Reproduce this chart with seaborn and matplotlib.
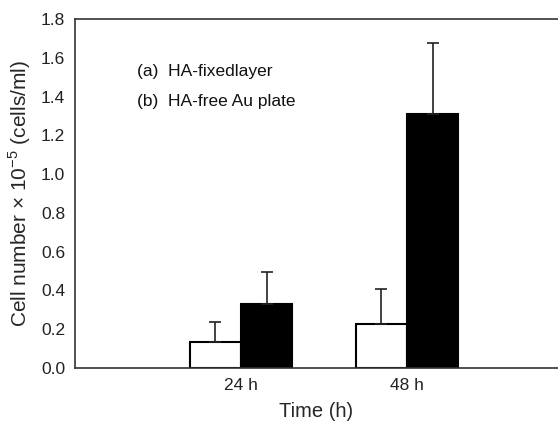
import matplotlib
matplotlib.use("Agg")
import matplotlib.pyplot as plt
import seaborn as sns
import pandas as pd
import numpy as np

# Data
times = ["24 h", "48 h"]
time_pos = [1, 2]
series = ["(a)  HA-fixedlayer", "(b)  HA-free Au plate"]
ha_fixed = [0.132, 0.228]
ha_fixed_err = [0.103, 0.182]
au_plate = [0.328, 1.309]
au_plate_err = [0.165, 0.365]
y_ticks = [0.0, 0.2, 0.4, 0.6, 0.8, 1.0, 1.2, 1.4, 1.6, 1.8]

sns.set_theme(style="white")
plt.rcParams["font.family"] = ["Liberation Sans", "DejaVu Sans"]
plt.rcParams["mathtext.fontset"] = "custom"
plt.rcParams["mathtext.rm"] = "Liberation Sans"

df = pd.DataFrame({
    "pos": time_pos * 2,
    "series": [series[0]] * 2 + [series[1]] * 2,
    "value": ha_fixed + au_plate,
})

fig = plt.figure(figsize=(5.58, 4.22), dpi=100)
ax = fig.add_axes([75 / 558, 54 / 422, 483 / 558, 349 / 422])

sns.barplot(data=df, x="pos", y="value", hue="series", native_scale=True,
            palette=["white", "black"], edgecolor="black", linewidth=1.5,
            width=0.62, errorbar=None, legend=False, ax=ax)

# upward-only error bars, using bar centers from the patches
errs = ha_fixed_err + au_plate_err
vals = ha_fixed + au_plate
bars = [p for p in ax.patches if p.get_width() > 0]
bars_sorted = sorted(bars, key=lambda p: (p.get_facecolor()[0] < 0.5, p.get_x()))
xs = [p.get_x() + p.get_width() / 2 for p in bars_sorted]
ax.errorbar(xs, vals, yerr=[np.zeros(len(errs)), errs], fmt="none",
            ecolor="#222222", elinewidth=1.2, capsize=4, capthick=1.2, zorder=1)

ax.set_xlim(0, 483 / 166)
ax.set_ylim(0, 1.8)
ax.set_yticks(y_ticks)
ax.set_yticklabels([f"{t:.1f}" for t in y_ticks], fontsize=12.5)
ax.set_xticks(time_pos)
ax.set_xticklabels(times, fontsize=12.5)
ax.tick_params(axis="y", direction="in", length=2, width=0.8, pad=7, colors="#222222")
ax.tick_params(axis="x", length=0, pad=7, colors="#222222")
ax.set_xlabel("Time (h)", fontsize=14.5, labelpad=7)
ax.set_ylabel("Cell number $\\times$ 10$^{\\mathregular{-5}}$ (cells/ml)", fontsize=15, labelpad=6)

for s in ["left", "bottom", "top"]:
    ax.spines[s].set_color("#333333")
    ax.spines[s].set_linewidth(1.2)
ax.spines["right"].set_visible(False)

ax.text(0.372, 1.53, series[0], fontsize=12.5, va="center", ha="left", color="#111111")
ax.text(0.372, 1.376, series[1], fontsize=12.5, va="center", ha="left", color="#111111")

fig.savefig("out.png", dpi=100)
